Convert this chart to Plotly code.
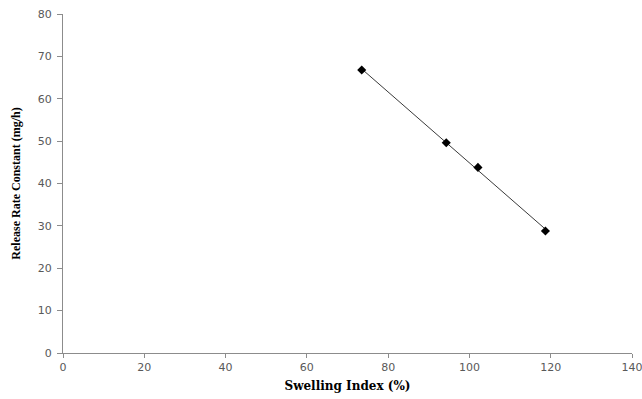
import numpy as np
import plotly.graph_objects as go

# Swelling index (%) vs release rate constant (mg/h)
swelling_index = [73.5, 94.3, 102.1, 118.7]
release_rate = [66.8, 49.6, 43.8, 28.8]

x_ticks = [0, 20, 40, 60, 80, 100, 120, 140]
y_ticks = [0, 10, 20, 30, 40, 50, 60, 70, 80]

# Linear trendline across the observed range
slope, intercept = np.polyfit(swelling_index, release_rate, 1)
trend_x = [min(swelling_index), max(swelling_index)]
trend_y = [slope * v + intercept for v in trend_x]

fig = go.Figure()
fig.add_trace(go.Scatter(
    x=trend_x, y=trend_y, mode="lines",
    line=dict(color="#3a3a3a", width=1),
    hoverinfo="skip", showlegend=False,
))
fig.add_trace(go.Scatter(
    x=swelling_index, y=release_rate, mode="markers",
    marker=dict(symbol="diamond", size=7, color="black"),
    showlegend=False,
))

tick_font = dict(family="DejaVu Sans, Verdana, sans-serif", size=11, color="#595959")
axis_color = "#8c8c8c"

fig.update_layout(
    width=642, height=399,
    margin=dict(l=63, r=10, t=14, b=46),
    paper_bgcolor="white", plot_bgcolor="white",
    xaxis=dict(
        range=[0, 140], tickvals=x_ticks, showgrid=False, zeroline=False,
        showline=True, linecolor=axis_color, linewidth=1,
        ticks="outside", ticklen=4, tickcolor=axis_color,
        tickfont=tick_font, ticklabeloverflow="allow", automargin=False,
        title=dict(text="<b>Swelling Index (%)</b>",
                   font=dict(family="DejaVu Serif, serif", size=12, color="black"),
                   standoff=8),
    ),
    yaxis=dict(
        range=[0, 80], tickvals=y_ticks, showgrid=False, zeroline=False,
        showline=True, linecolor=axis_color, linewidth=1,
        ticks="outside", ticklen=5, tickcolor=axis_color,
        tickfont=tick_font, automargin=False, ticklabelstandoff=3,
        title=dict(text="<b>Release Rate Constant (mg/h)</b>",
                   font=dict(family="Liberation Serif, Times New Roman, serif", size=12, color="black"),
                   standoff=14),
    ),
)

fig.write_html("out.html")
